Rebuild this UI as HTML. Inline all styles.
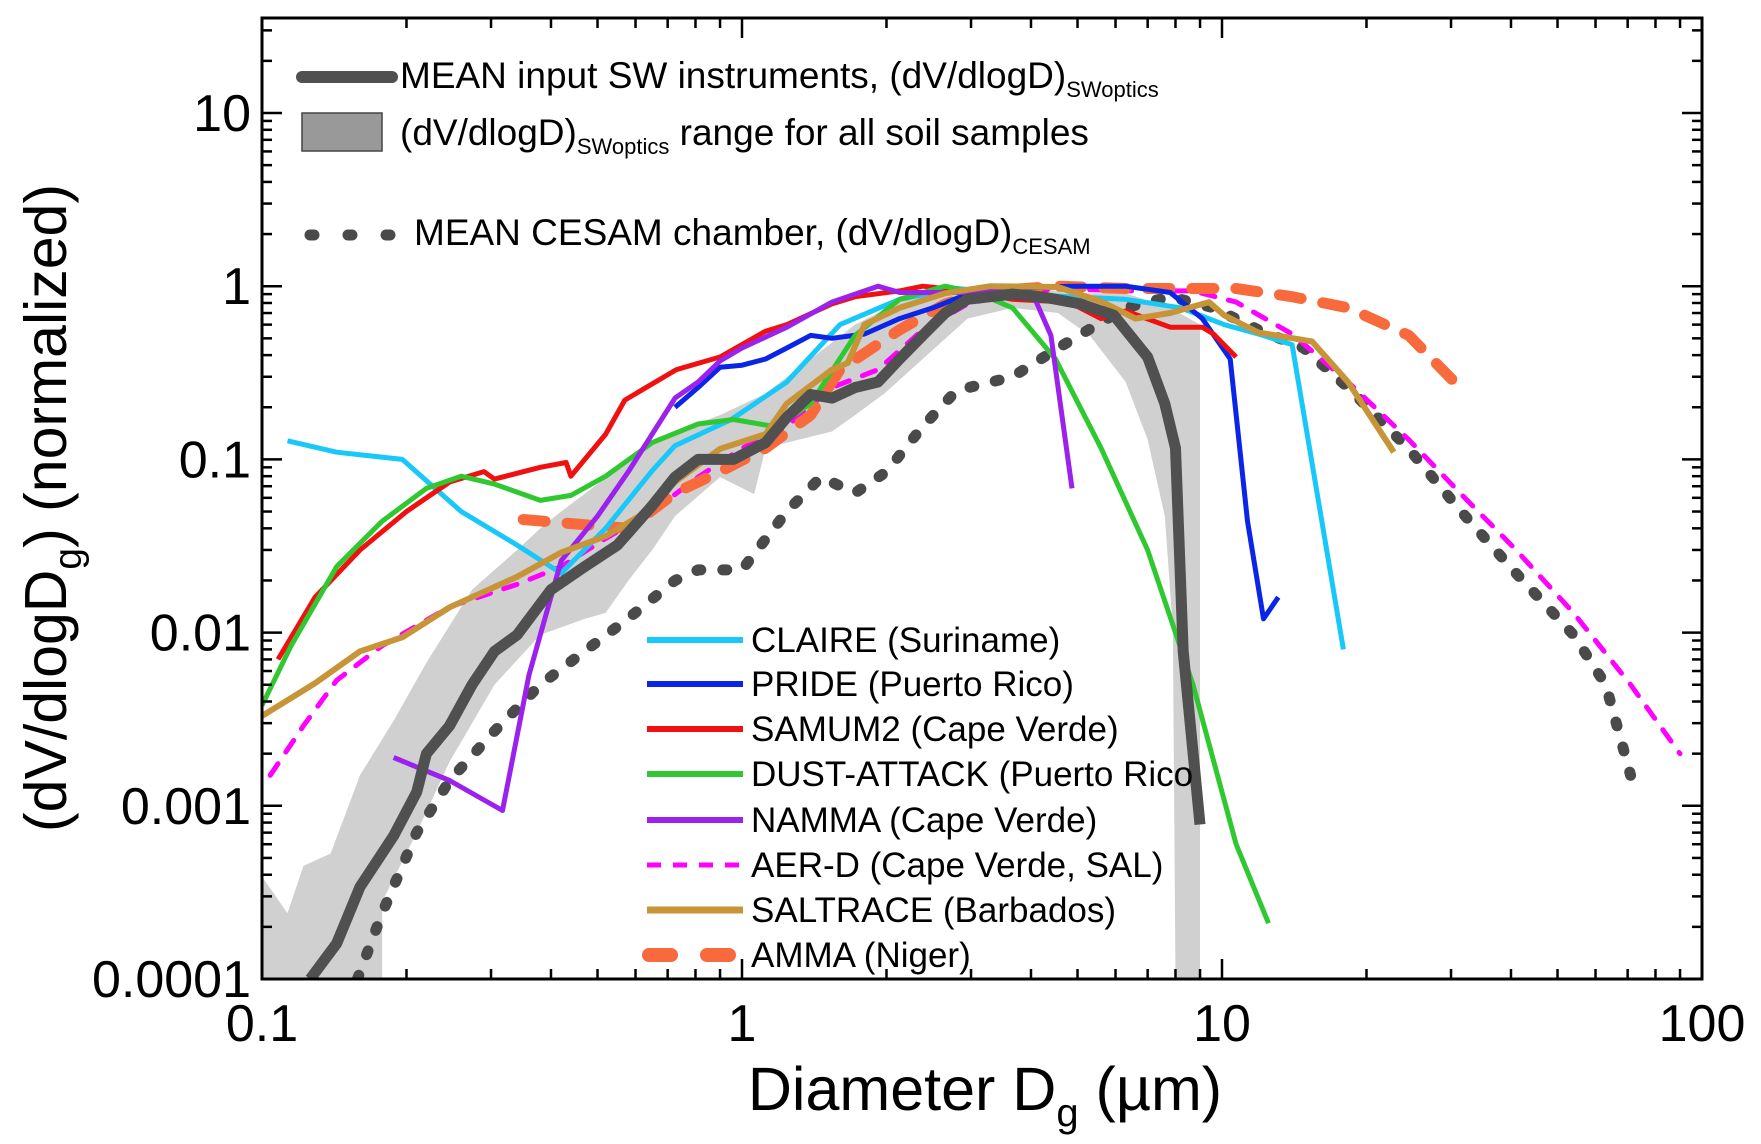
<!DOCTYPE html>
<html><head><meta charset="utf-8"><style>
body{margin:0;background:#fff}
svg{display:block;font-family:"Liberation Sans",sans-serif}
</style></head><body>
<svg id="chart" width="1761" height="1144" viewBox="0 0 1761 1144"></svg>
<script>
const xLim=[0.1,100];
const yTicks=[0.0001,0.001,0.01,0.1,1,10];
const yTickLabels=["0.0001","0.001","0.01","0.1","1","10"];
const xTicks=[0.1,1,10,100];
const xTickLabels=["0.1","1","10","100"];
const bandUpperX=[0.1,0.113,0.122,0.139,0.16,0.188,0.22,0.274,0.34,0.38,0.42,0.5,0.58,0.725,0.9,1.12,1.39,1.72,2.13,2.65,3.66,5.07,6.3,7.8,9.0];
const bandUpperY=[0.00039,0.00024,0.00045,0.00053,0.0015,0.0031,0.0067,0.0177,0.03,0.04,0.05,0.072,0.1,0.145,0.18,0.24,0.38,0.6,0.81,0.97,1.0,0.91,0.91,0.75,0.6];
const bandLowerX=[7.9,7.6,7.0,6.3,5.3,4.55,3.66,2.95,2.38,1.98,1.72,1.54,1.24,1.12,1.06,0.9,0.725,0.65,0.58,0.52,0.47,0.38,0.305,0.246,0.21,0.178];
const bandLowerY=[0.0105,0.047,0.13,0.28,0.52,0.7,0.75,0.65,0.38,0.24,0.18,0.145,0.125,0.116,0.063,0.079,0.047,0.03,0.02,0.013,0.012,0.0097,0.005,0.0018,0.0007,0.00028];
const claireX=[0.113,0.143,0.196,0.26,0.34,0.42,0.52,0.65,0.725,0.95,1.24,1.6,2.13,2.8,3.66,4.8,6.29,8.2,10.1,11.9,14.0,17.9];
const claireY=[0.128,0.11,0.1,0.05,0.032,0.022,0.04,0.086,0.12,0.17,0.28,0.6,0.84,0.97,0.91,0.87,0.84,0.75,0.6,0.53,0.46,0.008];
const prideX=[0.725,0.81,0.9,1.0,1.12,1.24,1.39,1.54,1.8,2.13,2.5,2.95,3.66,4.8,6.3,7.8,9.1,10.4,11.3,12.2,13.1];
const prideY=[0.2,0.26,0.34,0.35,0.38,0.44,0.52,0.5,0.53,0.65,0.75,0.9,0.97,1.0,1.0,0.92,0.65,0.38,0.044,0.012,0.016];
const samumX=[0.108,0.129,0.16,0.2,0.246,0.29,0.305,0.38,0.43,0.44,0.52,0.57,0.73,0.9,1.12,1.24,1.54,1.72,2.13,2.38,2.95,3.66,4.8,5.6,6.3,7.8,9.1,9.6,10.7];
const samumY=[0.007,0.016,0.03,0.05,0.074,0.085,0.077,0.09,0.096,0.08,0.14,0.22,0.33,0.39,0.55,0.6,0.79,0.87,0.94,1.0,0.94,0.84,0.81,0.65,0.72,0.58,0.58,0.53,0.39];
const dustX=[0.1,0.115,0.143,0.178,0.22,0.26,0.305,0.38,0.44,0.52,0.65,0.81,0.96,1.18,1.39,1.72,2.13,2.65,3.1,3.66,4.5,5.6,7.0,8.7,10.7,12.5];
const dustY=[0.0038,0.0084,0.024,0.044,0.068,0.08,0.072,0.058,0.062,0.08,0.125,0.16,0.17,0.154,0.21,0.52,0.84,1.0,0.91,0.75,0.38,0.116,0.03,0.005,0.0006,0.00021];
const nammaX=[0.188,0.246,0.317,0.36,0.42,0.5,0.58,0.725,0.81,0.9,1.0,1.24,1.54,1.92,2.13,2.95,3.66,4.08,4.4,4.87];
const nammaY=[0.0019,0.0014,0.00094,0.0057,0.026,0.047,0.085,0.226,0.28,0.37,0.44,0.58,0.81,1.0,0.92,0.92,0.94,0.84,0.52,0.068];
const aerdX=[0.104,0.122,0.143,0.178,0.246,0.34,0.42,0.52,0.65,0.81,1.0,1.24,1.54,1.92,2.38,2.95,3.66,4.55,6.3,8.7,10.7,14,18.3,24.5,31.5,41,54,71,90];
const aerdY=[0.0015,0.0029,0.0053,0.0084,0.0141,0.019,0.024,0.035,0.05,0.079,0.116,0.155,0.26,0.33,0.56,0.79,0.91,0.97,0.94,0.94,0.81,0.53,0.28,0.13,0.063,0.03,0.013,0.005,0.002];
const saltX=[0.1,0.129,0.16,0.196,0.246,0.34,0.42,0.52,0.61,0.725,0.9,1.12,1.24,1.54,1.66,1.8,2.13,2.65,3.29,4.55,5.64,6.6,7.8,9.4,10.1,11.9,15.4,18.3,22.8];
const saltY=[0.0033,0.0051,0.0078,0.0094,0.014,0.021,0.029,0.036,0.047,0.074,0.115,0.14,0.21,0.33,0.36,0.6,0.75,0.91,1.0,0.99,0.81,0.65,0.7,0.81,0.68,0.54,0.48,0.28,0.11];
const ammaX=[0.35,0.47,0.58,0.725,0.9,1.12,1.39,1.6,2.13,2.65,3.29,4.55,6.3,8.7,10.7,14,18.3,24.5,30.5];
const ammaY=[0.045,0.042,0.04,0.064,0.085,0.116,0.18,0.33,0.56,0.79,0.94,1.0,0.97,0.97,0.97,0.87,0.75,0.52,0.28];
const cesamX=[0.158,0.178,0.21,0.246,0.305,0.38,0.47,0.58,0.725,0.81,1.0,1.24,1.46,1.72,2.0,2.38,2.8,3.66,4.8,6.3,7.8,9.6,11.9,14.8,18.3,24.5,31.5,41,54,63,71];
const cesamY=[0.0001,0.00024,0.0007,0.0014,0.0027,0.005,0.0078,0.0121,0.02,0.023,0.023,0.05,0.079,0.064,0.085,0.155,0.25,0.3,0.48,0.75,0.87,0.75,0.56,0.44,0.26,0.115,0.05,0.022,0.0097,0.005,0.0015];
const meanX=[0.126,0.143,0.16,0.188,0.21,0.22,0.246,0.274,0.305,0.34,0.4,0.47,0.55,0.65,0.725,0.81,0.96,1.12,1.24,1.39,1.54,1.72,1.92,2.13,2.38,2.65,2.95,3.66,4.3,5.07,5.95,7.0,7.6,8.0,8.3,9.0];
const meanY=[0.0001,0.00016,0.00034,0.00067,0.0012,0.002,0.0029,0.005,0.0078,0.0097,0.0177,0.024,0.032,0.054,0.079,0.1,0.1,0.125,0.175,0.237,0.226,0.26,0.28,0.38,0.52,0.7,0.84,0.9,0.86,0.79,0.68,0.39,0.21,0.116,0.0078,0.00078];

const L=262,R=1702,T=18,B=979;
const X=v=>L+(Math.log10(v)+1)*480;
const Y=v=>113+(1-Math.log10(v))*173.2;
const svg=document.getElementById('chart');
const NS='http://www.w3.org/2000/svg';
function mk(tag,attrs,parent){const e=document.createElementNS(NS,tag);for(const k in attrs)e.setAttribute(k,attrs[k]);(parent||svg).appendChild(e);return e;}
const defs=mk('defs',{});
const cp=mk('clipPath',{id:'clip'},defs);mk('rect',{x:L,y:T,width:R-L,height:B-T},cp);
const g=mk('g',{'clip-path':'url(#clip)'});



let pts=[[X(0.1),Y(0.0001)]];
bandUpperX.forEach((x,i)=>pts.push([X(x),Y(bandUpperY[i])]));
pts.push([X(9.0),Y(0.0001)],[X(8.0),Y(0.0001)]);
bandLowerX.forEach((x,i)=>pts.push([X(x),Y(bandLowerY[i])]));
pts.push([X(0.178),Y(0.0001)]);
const band=mk('polygon',{points:pts.map(p=>p.join(',')).join(' '),fill:'#d0d0d0'},g);



function line(xs,ys,color,w,dash,name){
  const d=xs.map((x,i)=>(i?'L':'M')+X(x).toFixed(1)+','+Y(ys[i]).toFixed(1)).join('');
  const p=mk('path',{d:d,fill:'none',stroke:color,'stroke-width':w,'stroke-linejoin':'round','stroke-linecap':dash?'round':'butt'},g);
  if(dash)p.setAttribute('stroke-dasharray',dash);
  
  
}
line(cesamX,cesamY,'#4a4a4a',11,'4 22','mean-cesam-line');
line(aerdX,aerdY,'#ff00ff',5,'14 14','aer-d-line');
line(ammaX,ammaY,'#f86a3c',11,'22 22','amma-line');
line(claireX,claireY,'#18c8f8',5,null,'claire-line');
line(prideX,prideY,'#0a24e8',5,null,'pride-line');
line(samumX,samumY,'#f01010',5,null,'samum2-line');
line(dustX,dustY,'#30c830',5,null,'dust-attack-line');
line(nammaX,nammaY,'#9a22ec',5,null,'namma-line');
line(saltX,saltY,'#c89438',6,null,'saltrace-line');
line(meanX,meanY,'#505050',11,null,'mean-sw-line');

const fr=mk('rect',{x:L,y:T,width:R-L,height:B-T,fill:'none',stroke:'#000','stroke-width':3});


for(let e=-1;e<2;e++)for(let m=1;m<10;m++){const v=m*Math.pow(10,e);const x=X(v);const len=m==1?20:10;
  mk('line',{x1:x,y1:B,x2:x,y2:B-len,stroke:'#000','stroke-width':2.5});
  mk('line',{x1:x,y1:T,x2:x,y2:T+len,stroke:'#000','stroke-width':2.5});}
for(let e=-4;e<2;e++)for(let m=1;m<10;m++){const v=m*Math.pow(10,e);const y=Y(v);if(y<T)continue;const len=m==1?20:10;
  mk('line',{x1:L,y1:y,x2:L+len,y2:y,stroke:'#000','stroke-width':2.5});
  mk('line',{x1:R,y1:y,x2:R-len,y2:y,stroke:'#000','stroke-width':2.5});}
xTicks.forEach((v,i)=>{const t=mk('text',{x:X(v),y:1041,'font-size':52,'text-anchor':'middle'});t.textContent=xTickLabels[i];
  
  });
yTicks.forEach((v,i)=>{const t=mk('text',{x:251,y:Y(v)+18,'font-size':52,'text-anchor':'end'});t.textContent=yTickLabels[i];
  
  });
</script>
<svg width="1761" height="1144" style="position:absolute;left:0;top:0" font-family="Liberation Sans, sans-serif">
<text x="985" y="1110" font-size="61" text-anchor="middle">Diameter D<tspan font-size="40" dy="16">g</tspan><tspan dy="-16"> (µm)</tspan></text>
<text transform="translate(66,508) rotate(-90)" font-size="59" text-anchor="middle">(dV/dlogD<tspan font-size="39" dy="15">g</tspan><tspan dy="-15">) (normalized)</tspan></text>
<g font-size="37">
<line x1="302" y1="77" x2="392" y2="77" stroke="#505050" stroke-width="12" stroke-linecap="round"/>
<text x="400" y="88">MEAN input SW instruments, (dV/dlogD)<tspan font-size="22" dy="9">SWoptics</tspan></text>
<rect x="302" y="113" width="80" height="38" fill="#999" stroke="#444" stroke-width="1.5"/>
<text x="400" y="145">(dV/dlogD)<tspan font-size="22" dy="9">SWoptics</tspan><tspan dy="-9"> range for all soil samples</tspan></text>
<line x1="310" y1="235" x2="397" y2="235" stroke="#4a4a4a" stroke-width="11" stroke-linecap="round" stroke-dasharray="4 34"/>
<text x="414" y="245">MEAN CESAM chamber, (dV/dlogD)<tspan font-size="22" dy="9">CESAM</tspan></text>
</g>
<g font-size="35">
<line x1="647" y1="640" x2="743" y2="640" stroke="#18c8f8" stroke-width="6"/><text x="751" y="652">CLAIRE (Suriname)</text>
<line x1="647" y1="684" x2="743" y2="684" stroke="#0a24e8" stroke-width="6"/><text x="751" y="696">PRIDE (Puerto Rico)</text>
<line x1="647" y1="729" x2="743" y2="729" stroke="#f01010" stroke-width="6"/><text x="751" y="741">SAMUM2 (Cape Verde)</text>
<line x1="647" y1="774" x2="743" y2="774" stroke="#30c830" stroke-width="6"/><text x="751" y="786">DUST-ATTACK (Puerto Rico</text>
<line x1="647" y1="820" x2="743" y2="820" stroke="#9a22ec" stroke-width="6"/><text x="751" y="832">NAMMA (Cape Verde)</text>
<line x1="647" y1="865" x2="743" y2="865" stroke="#ff00ff" stroke-width="5" stroke-dasharray="14 12"/><text x="751" y="877">AER-D (Cape Verde, SAL)</text>
<line x1="647" y1="910" x2="743" y2="910" stroke="#c89438" stroke-width="7"/><text x="751" y="922">SALTRACE (Barbados)</text>
<line x1="649" y1="955" x2="741" y2="955" stroke="#f86a3c" stroke-width="14" stroke-linecap="round" stroke-dasharray="22 36"/><text x="751" y="967">AMMA (Niger)</text>
</g>
</svg>
</body></html>
